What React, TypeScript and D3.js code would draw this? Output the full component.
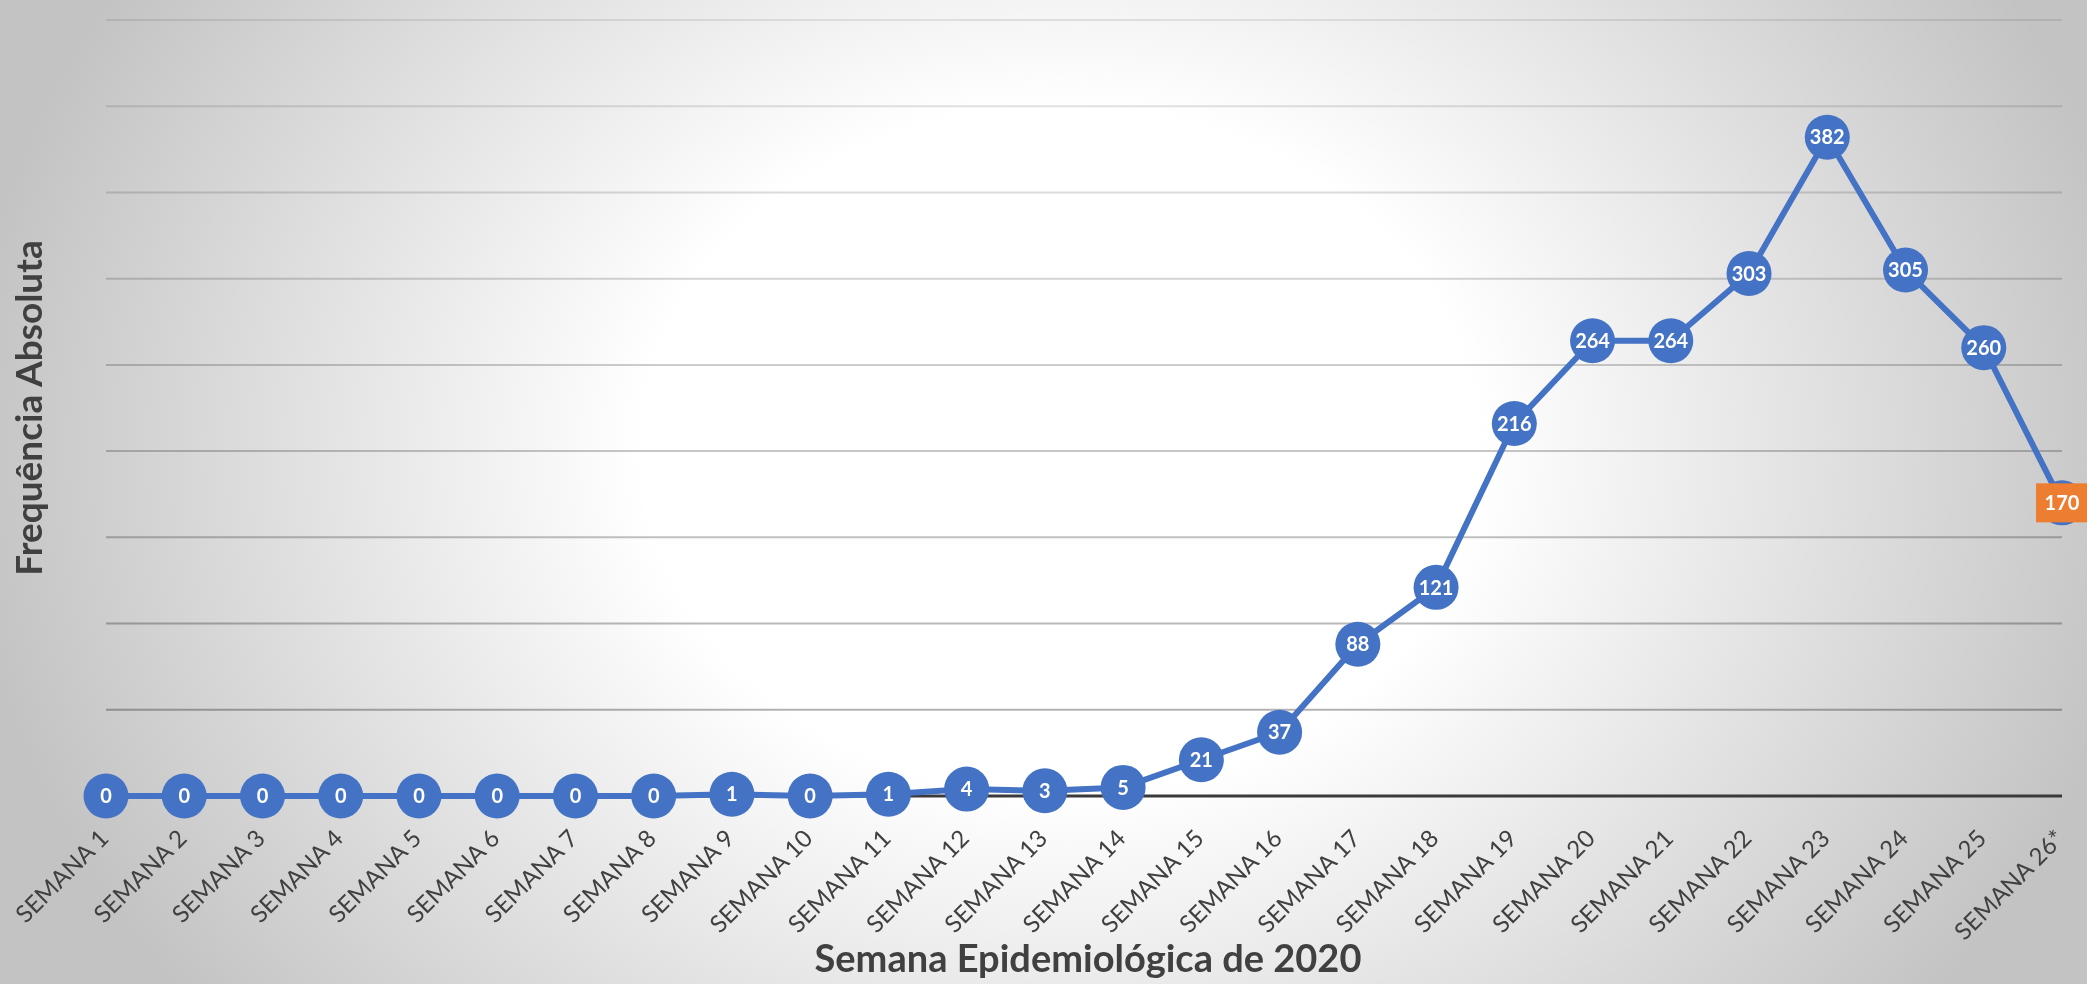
import { useEffect, useRef } from 'react';
import * as d3 from 'd3';

const weeks = [
  'SEMANA 1', 'SEMANA 2', 'SEMANA 3', 'SEMANA 4', 'SEMANA 5', 'SEMANA 6',
  'SEMANA 7', 'SEMANA 8', 'SEMANA 9', 'SEMANA 10', 'SEMANA 11', 'SEMANA 12',
  'SEMANA 13', 'SEMANA 14', 'SEMANA 15', 'SEMANA 16', 'SEMANA 17', 'SEMANA 18',
  'SEMANA 19', 'SEMANA 20', 'SEMANA 21', 'SEMANA 22', 'SEMANA 23', 'SEMANA 24',
  'SEMANA 25', 'SEMANA 26*',
];
const cases = [0, 0, 0, 0, 0, 0, 0, 0, 1, 0, 1, 4, 3, 5, 21, 37, 88, 121, 216, 264, 264, 303, 382, 305, 260, 170];
const gridValues = [50, 100, 150, 200, 250, 300, 350, 400, 450];
const xTitle = 'Semana Epidemiológica de 2020';
const yTitle = 'Frequência Absoluta';

const W = 2087;
const H = 984;

export default function App() {
  const svgRef = useRef<SVGSVGElement>(null);

  useEffect(() => {
    if (!svgRef.current) return;
    const svg = d3.select(svgRef.current);
    svg.selectAll('*').remove();

    const x = d3.scalePoint<string>().domain(weeks).range([106, 2062]);
    const y = d3.scaleLinear().domain([0, 450]).range([796, 20]);

    // background: soft radial grey
    const defs = svg.append('defs');
    const bg = defs.append('radialGradient')
      .attr('id', 'bg')
      .attr('gradientUnits', 'userSpaceOnUse')
      .attr('cx', 1060).attr('cy', 450).attr('r', 1100)
      .attr('gradientTransform', 'translate(1060,450) scale(1,0.82) translate(-1060,-450)');
    bg.append('stop').attr('offset', 0).attr('stop-color', '#ffffff');
    bg.append('stop').attr('offset', 0.38).attr('stop-color', '#ffffff');
    bg.append('stop').attr('offset', 1).attr('stop-color', '#c3c3c3');

    svg.append('rect').attr('width', W).attr('height', H).attr('fill', 'url(#bg)');

    // gridlines
    const gridAlpha = d3.scaleLinear().domain([450, 50]).range([0.09, 0.3]);
    svg.append('g')
      .selectAll('line')
      .data(gridValues)
      .enter()
      .append('line')
      .attr('x1', x(weeks[0])!)
      .attr('x2', x(weeks[weeks.length - 1])!)
      .attr('y1', d => y(d))
      .attr('y2', d => y(d))
      .attr('stroke', '#000')
      .attr('stroke-opacity', d => gridAlpha(d))
      .attr('stroke-width', 2);

    // baseline
    svg.append('line')
      .attr('x1', x(weeks[0])!)
      .attr('x2', x(weeks[weeks.length - 1])!)
      .attr('y1', y(0))
      .attr('y2', y(0))
      .attr('stroke', '#3a3a3a')
      .attr('stroke-width', 3);

    // x tick labels
    svg.append('g')
      .selectAll('text')
      .data(weeks)
      .enter()
      .append('text')
      .attr('transform', d => `translate(${x(d)! + 4},840) rotate(-45)`)
      .attr('text-anchor', 'end')
      .attr('font-family', 'Lato, sans-serif')
      .attr('font-size', 24)
      .attr('fill', '#404040')
      .text(d => d);

    // line
    const pts = weeks.map((w, i) => ({ w, v: cases[i] }));
    const line = d3.line<{ w: string; v: number }>()
      .x(d => x(d.w)!)
      .y(d => y(d.v));
    svg.append('path')
      .datum(pts)
      .attr('d', line)
      .attr('fill', 'none')
      .attr('stroke', '#4472C4')
      .attr('stroke-width', 6)
      .attr('stroke-linejoin', 'round');

    // markers
    svg.append('g')
      .selectAll('circle')
      .data(pts)
      .enter()
      .append('circle')
      .attr('cx', d => x(d.w)!)
      .attr('cy', d => y(d.v))
      .attr('r', 22.5)
      .attr('fill', '#4472C4');

    // data labels
    const last = pts.length - 1;
    const lab = svg.append('g');
    lab.selectAll('rect')
      .data(pts.filter((_, i) => i === last))
      .enter()
      .append('rect')
      .attr('x', d => x(d.w)! - 26)
      .attr('y', d => y(d.v) - 19.5)
      .attr('width', 52)
      .attr('height', 39)
      .attr('fill', '#ED7D31');
    lab.selectAll('text')
      .data(pts)
      .enter()
      .append('text')
      .attr('x', d => x(d.w)!)
      .attr('y', d => y(d.v))
      .attr('dy', '0.36em')
      .attr('text-anchor', 'middle')
      .attr('font-family', 'Lato, sans-serif')
      .attr('font-weight', 'bold')
      .attr('font-size', 20)
      .attr('fill', '#ffffff')
      .text(d => d.v);

    // axis titles
    svg.append('text')
      .attr('x', 1088)
      .attr('y', 972)
      .attr('text-anchor', 'middle')
      .attr('font-family', 'Lato, sans-serif')
      .attr('font-weight', 'bold')
      .attr('font-size', 38)
      .attr('fill', '#404040')
      .text(xTitle);

    svg.append('text')
      .attr('transform', `translate(42,${(y(0) + y(450)) / 2}) rotate(-90)`)
      .attr('text-anchor', 'middle')
      .attr('font-family', 'Lato, sans-serif')
      .attr('font-weight', 'bold')
      .attr('font-size', 37)
      .attr('fill', '#404040')
      .text(yTitle);
  }, []);

  return (
    <svg
      ref={svgRef}
      width={W}
      height={H}
      style={{ position: 'fixed', left: 0, top: 0, display: 'block' }}
    />
  );
}
